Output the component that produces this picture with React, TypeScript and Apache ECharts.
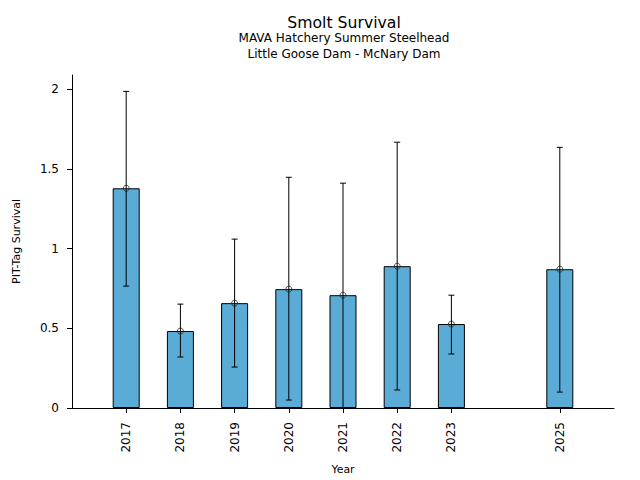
import React, { useEffect, useRef } from "react";
import * as echarts from "echarts";

const categories = ["2016", "2017", "2018", "2019", "2020", "2021", "2022", "2023", "2024", "2025", "2026"];
const dataYears = ["2017", "2018", "2019", "2020", "2021", "2022", "2023", "2025"];
const survival = [1.379, 0.483, 0.658, 0.746, 0.708, 0.89, 0.527, 0.871];
const lower = [0.765, 0.32, 0.257, 0.05, 0.003, 0.113, 0.339, 0.1];
const upper = [1.987, 0.652, 1.06, 1.448, 1.411, 1.668, 0.708, 1.636];

const FONT = "DejaVu Sans";

export default function App() {
  const ref = useRef<HTMLDivElement>(null);
  useEffect(() => {
    if (!ref.current) return;
    const chart = echarts.init(ref.current, null, { renderer: "svg" });
    const shown = new Set(dataYears);
    const barData = dataYears.map((y, i) => [y, survival[i]]);
    const errData = dataYears.map((y, i) => [y, lower[i], upper[i]]);
    chart.setOption({
      animation: false,
      textStyle: { fontFamily: FONT },
      title: [
        {
          text: "Smolt Survival",
          left: 344,
          top: 15,
          padding: 0,
          textAlign: "center",
          textStyle: { fontFamily: FONT, fontSize: 15.7, fontWeight: "normal", color: "#000", lineHeight: 15 },
        },
        {
          text: "MAVA Hatchery Summer Steelhead\nLittle Goose Dam - McNary Dam",
          left: 344,
          top: 30,
          padding: 0,
          textAlign: "center",
          textStyle: { fontFamily: FONT, fontSize: 12, fontWeight: "normal", color: "#000", lineHeight: 16 },
        },
      ],
      grid: { left: 72, right: 26, top: 75, bottom: 72, containLabel: false },
      xAxis: {
        type: "category",
        data: categories,
        boundaryGap: false,
        name: "Year",
        nameLocation: "middle",
        nameGap: 56,
        nameTextStyle: { fontFamily: FONT, fontSize: 10.8, color: "#000" },
        axisLine: { show: true, lineStyle: { color: "#000", width: 1 } },
        axisTick: {
          show: true,
          length: 5,
          alignWithLabel: true,
          interval: (idx: number, val: string) => shown.has(val),
          lineStyle: { color: "#000" },
        },
        axisLabel: {
          rotate: 90,
          margin: 14,
          interval: (idx: number, val: string) => shown.has(val),
          fontFamily: FONT,
          fontSize: 12,
          color: "#000",
        },
        splitLine: { show: false },
      },
      yAxis: {
        type: "value",
        min: 0,
        max: 2.09,
        interval: 0.5,
        name: "PIT-Tag Survival",
        nameLocation: "middle",
        nameGap: 50,
        nameTextStyle: { fontFamily: FONT, fontSize: 11, color: "#000" },
        axisLine: { show: true, lineStyle: { color: "#000", width: 1 } },
        axisTick: { show: true, length: 5, lineStyle: { color: "#000" } },
        axisLabel: {
          margin: 13,
          fontFamily: FONT,
          fontSize: 12,
          color: "#000",
          showMaxLabel: false,
          formatter: (v: number) => (v > 2.01 ? "" : String(v)),
        },
        splitLine: { show: false },
      },
      series: [
        {
          type: "bar",
          data: barData,
          barWidth: 27,
          itemStyle: { color: "#5aacd6", borderColor: "#000", borderWidth: 1 },
          z: 2,
        },
        {
          type: "custom",
          data: errData,
          encode: { x: 0, y: [1, 2] },
          z: 3,
          renderItem: (params: any, api: any) => {
            const x = api.value(0);
            const lo = api.coord([x, api.value(1)]);
            const hi = api.coord([x, api.value(2)]);
            const cap = 3;
            const style = { stroke: "#000", lineWidth: 1 };
            return {
              type: "group",
              children: [
                { type: "line", shape: { x1: lo[0], y1: lo[1], x2: hi[0], y2: hi[1] }, style },
                { type: "line", shape: { x1: lo[0] - cap, y1: lo[1], x2: lo[0] + cap, y2: lo[1] }, style },
                { type: "line", shape: { x1: hi[0] - cap, y1: hi[1], x2: hi[0] + cap, y2: hi[1] }, style },
              ],
            };
          },
        },
        {
          type: "scatter",
          data: barData,
          symbol: "circle",
          symbolSize: 6,
          itemStyle: { color: "rgba(0,0,0,0)", borderColor: "#222", borderWidth: 1 },
          z: 4,
        },
      ],
    });
    return () => chart.dispose();
  }, []);
  return <div ref={ref} style={{ position: "absolute", left: 0, top: 0, width: 640, height: 480 }} />;
}
